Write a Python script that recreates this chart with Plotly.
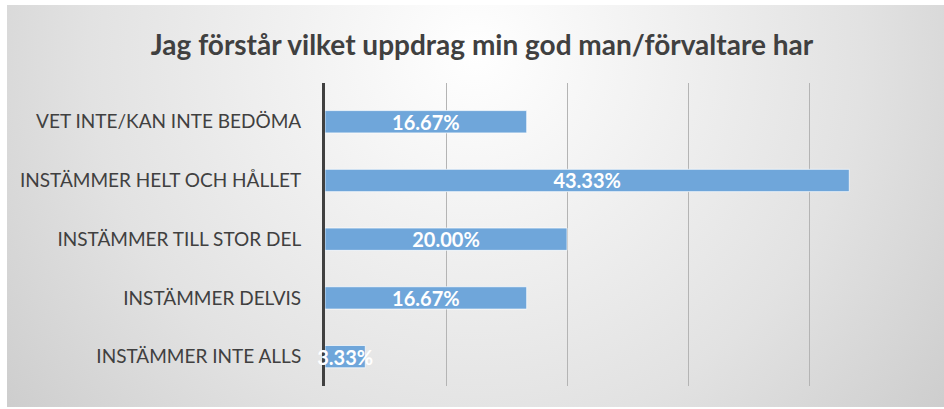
import plotly.graph_objects as go
import urllib.parse

categories = [
    "INSTÄMMER INTE ALLS",
    "INSTÄMMER DELVIS",
    "INSTÄMMER TILL STOR DEL",
    "INSTÄMMER HELT OCH HÅLLET",
    "VET INTE/KAN INTE BEDÖMA",
]
values = [3.33, 16.67, 20.00, 43.33, 16.67]
labels = [f"{v:.2f}%" for v in values]
title_text = "Jag förstår vilket uppdrag min god man/förvaltare har"

W, H = 944, 409
ml, mr, mt, mb = 325, 14, 83, 23
pw, ph = W - ml - mr, H - mt - mb

svg = (
    "<svg xmlns='http://www.w3.org/2000/svg' width='937' height='402' viewBox='0 0 937 402' preserveAspectRatio='none'>"
    "<defs><radialGradient id='g' cx='0.5' cy='0.12' r='0.75' gradientUnits='objectBoundingBox' "
    "gradientTransform='translate(0.5,0.12) scale(1,2.3) translate(-0.5,-0.12)'>"
    "<stop offset='0' stop-color='#ffffff'/><stop offset='0.55' stop-color='#e2e2e2'/>"
    "<stop offset='1' stop-color='#c2c2c2'/></radialGradient></defs>"
    "<rect width='937' height='402' fill='url(#g)'/></svg>"
)
src = "data:image/svg+xml;charset=utf-8," + urllib.parse.quote(svg)

fig = go.Figure(
    go.Bar(
        y=categories,
        x=values,
        orientation="h",
        text=labels,
        textposition="inside",
        insidetextanchor="middle",
        constraintext="none",
        textfont=dict(family="Lato", size=20, color="white", weight="bold"),
        marker=dict(color="#6FA6DA", line=dict(color="rgba(255,255,255,0.7)", width=1)),
        cliponaxis=False,
        hoverinfo="skip",
    )
)

fig.add_layout_image(
    dict(
        source=src,
        xref="paper", yref="paper",
        x=(7 - ml) / pw, y=(H - mb - 5) / ph,
        sizex=937 / pw, sizey=402 / ph,
        xanchor="left", yanchor="top",
        sizing="stretch", layer="below",
    )
)

fig.update_layout(
    width=W, height=H,
    margin=dict(l=ml, r=mr, t=mt, b=mb),
    paper_bgcolor="white",
    plot_bgcolor="rgba(0,0,0,0)",
    bargap=0.62,
    showlegend=False,
    title=dict(
        text=title_text,
        x=482 / W, xref="container", xanchor="center",
        y=1 - 45 / H, yref="container", yanchor="middle",
        font=dict(family="Lato", size=28, color="#404040", weight="bold"),
    ),
    xaxis=dict(
        range=[0, 50], dtick=10, showticklabels=False,
        showgrid=True, gridcolor="#b4b4b4", gridwidth=1,
        zeroline=False, fixedrange=True, layer="below traces",
    ),
    yaxis=dict(
        categoryorder="array", categoryarray=categories,
        range=[-0.5, 4.66],
        showgrid=False, showline=True, linecolor="#404040", linewidth=3,
        ticks="", ticklabelstandoff=17, layer="below traces",
        tickfont=dict(family="Lato", size=19, color="#404040"),
        fixedrange=True,
    ),
)

fig.write_html(
    "out.html",
    config={"displayModeBar": False},
    post_script="document.body.style.margin='0';",
)
